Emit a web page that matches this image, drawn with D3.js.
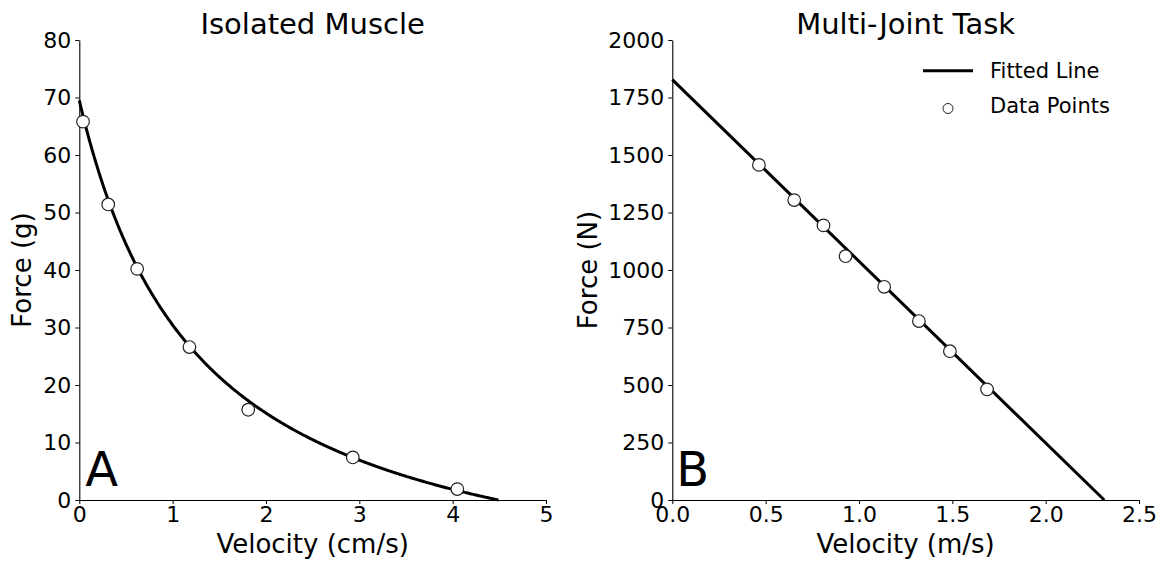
<!DOCTYPE html>
<html>
<head>
<meta charset="utf-8">
<script src="https://cdn.jsdelivr.net/npm/d3@7"></script>
<style>
  html, body { margin: 0; padding: 0; background: #fff; }
  svg { display: block; font-family: "DejaVu Sans", sans-serif; }
</style>
</head>
<body>
<svg id="chart" width="1165" height="563"></svg>
<script>
// Panel A: isolated muscle force–velocity measurements
const muscleVelocity = [0.04, 0.31, 0.62, 1.18, 1.81, 2.93, 4.05];
const muscleForce    = [65.8, 51.4, 40.2, 26.6, 15.7, 7.4, 1.9];
// Hill hyperbola fit: (F + a)(v + b) = (F0 + a) b, with F = 0 at vmax
const hillF0 = 69.5;
const hillB = 1.29;
const hillVmax = 4.49;

// Panel B: multi-joint task measurements
const taskVelocity = [0.464, 0.653, 0.810, 0.928, 1.135, 1.321, 1.487, 1.686];
const taskForce    = [1457, 1304, 1194, 1060, 927, 778, 647, 481];
// Linear fit: F = intercept + slope * v
const lineIntercept = 1828;
const lineSlope = -790;

// Tick values
const muscleXTicks = [0, 1, 2, 3, 4, 5];
const muscleYTicks = [0, 10, 20, 30, 40, 50, 60, 70, 80];
const taskXTicks = [0, 0.5, 1.0, 1.5, 2.0, 2.5];
const taskYTicks = [0, 250, 500, 750, 1000, 1250, 1500, 1750, 2000];

const svg = d3.select("#chart");

const TICK_FONT = 22, LABEL_FONT = 26, TITLE_FONT = 29;
const plotTop = 40, plotBottom = 500;

function panel(opts) {
  const g = svg.append("g");
  const x = d3.scaleLinear().domain(opts.xDomain).range([opts.left, opts.right]);
  const y = d3.scaleLinear().domain(opts.yDomain).range([plotBottom, plotTop]);

  // x axis
  const xa = g.append("g").attr("transform", `translate(0,${plotBottom})`)
    .call(d3.axisBottom(x).tickValues(opts.xTicks).tickFormat(opts.xFormat)
      .tickSize(4).tickSizeOuter(0).tickPadding(2));
  // y axis
  const ya = g.append("g").attr("transform", `translate(${opts.left},0)`)
    .call(d3.axisLeft(y).tickValues(opts.yTicks).tickFormat(d3.format("d"))
      .tickSize(4).tickSizeOuter(0).tickPadding(4));
  [xa, ya].forEach(a => {
    a.selectAll("path.domain").attr("stroke", "#000").attr("stroke-width", 1.1);
    a.selectAll(".tick line").attr("stroke", "#000").attr("stroke-width", 1);
    a.selectAll(".tick text").attr("fill", "#000")
      .style("font-family", "'DejaVu Sans', sans-serif").style("font-size", TICK_FONT + "px");
  });

  // titles and axis labels
  g.append("text").attr("x", (opts.left + opts.right) / 2).attr("y", 34)
    .attr("text-anchor", "middle").style("font-size", TITLE_FONT + "px").text(opts.title);
  g.append("text").attr("x", (opts.left + opts.right) / 2).attr("y", 553)
    .attr("text-anchor", "middle").style("font-size", LABEL_FONT + "px").text(opts.xLabel);
  g.append("text").attr("transform", `translate(${opts.yLabelX},${(plotTop + plotBottom) / 2}) rotate(-90)`)
    .attr("text-anchor", "middle").style("font-size", LABEL_FONT + "px").text(opts.yLabel);

  // panel letter
  g.append("text").attr("x", opts.left + opts.letterDx).attr("y", 486)
    .style("font-size", "48px").text(opts.letter);

  // fitted curve
  g.append("path").datum(opts.fit)
    .attr("fill", "none").attr("stroke", "#000").attr("stroke-width", 3)
    .attr("stroke-linejoin", "round")
    .attr("d", d3.line().x(d => x(d[0])).y(d => y(d[1])));

  // measured points
  g.selectAll("circle.pt").data(opts.points).join("circle")
    .attr("class", "pt")
    .attr("cx", d => x(d[0])).attr("cy", d => y(d[1])).attr("r", 6.3)
    .attr("fill", "#fff").attr("stroke", "#222").attr("stroke-width", 1.2);
  return { g, x, y };
}

// Panel A curve from the Hill fit parameters
const hillA = hillF0 * hillB / hillVmax;
const hillCurve = d3.range(0, hillVmax, 0.01).concat([hillVmax])
  .map(v => [v, hillA * (hillVmax - v) / (v + hillB)]);

panel({
  left: 79.3, right: 546, xDomain: [0, 5], yDomain: [0, 80],
  xTicks: muscleXTicks, yTicks: muscleYTicks, xFormat: d3.format("d"),
  title: "Isolated Muscle", xLabel: "Velocity (cm/s)", yLabel: "Force (g)",
  yLabelX: 31, letter: "A", letterDx: 6,
  fit: hillCurve,
  points: muscleVelocity.map((v, i) => [v, muscleForce[i]])
});

// Panel B straight fit between v = 0 and the zero-force intercept
const taskVZero = -lineIntercept / lineSlope;
const taskLine = [[0, lineIntercept], [taskVZero, 0]];

panel({
  left: 672.3, right: 1139, xDomain: [0, 2.5], yDomain: [0, 2000],
  xTicks: taskXTicks, yTicks: taskYTicks, xFormat: d3.format(".1f"),
  title: "Multi-Joint Task", xLabel: "Velocity (m/s)", yLabel: "Force (N)",
  yLabelX: 597, letter: "B", letterDx: 4,
  fit: taskLine,
  points: taskVelocity.map((v, i) => [v, taskForce[i]])
});

// Legend
const legend = svg.append("g").style("font-size", "21px");
const legendItems = ["Fitted Line", "Data Points"];
legend.append("line").attr("x1", 923).attr("x2", 973).attr("y1", 70.7).attr("y2", 70.7)
  .attr("stroke", "#000").attr("stroke-width", 3);
legend.append("circle").attr("cx", 948).attr("cy", 108.5).attr("r", 5)
  .attr("fill", "#fff").attr("stroke", "#222").attr("stroke-width", 1);
legend.selectAll("text.item").data(legendItems).join("text")
  .attr("class", "item").attr("x", 990).attr("y", (d, i) => 77.5 + i * 35)
  .text(d => d);
</script>
</body>
</html>
